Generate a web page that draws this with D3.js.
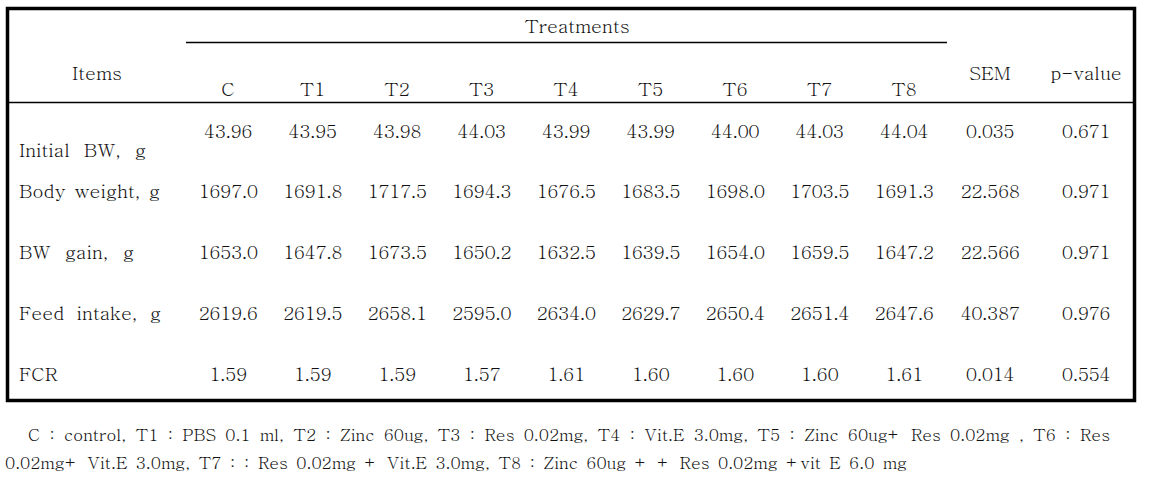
<!DOCTYPE html>
<html>
<head>
<meta charset="utf-8">
<script src="https://cdn.jsdelivr.net/npm/d3@7"></script>
<style>
  html, body { margin: 0; padding: 0; background: #fff; }
</style>
</head>
<body>
<svg id="chart" width="1153" height="486"></svg>
<script>
// ---- data ----
const treatments = ["C", "T1", "T2", "T3", "T4", "T5", "T6", "T7", "T8"];
const statCols = ["SEM", "p-value"];
const items = ["Initial BW, g", "Body weight, g", "BW gain, g", "Feed intake, g", "FCR"];
const initialBW = ["43.96", "43.95", "43.98", "44.03", "43.99", "43.99", "44.00", "44.03", "44.04"];
const bodyWeight = ["1697.0", "1691.8", "1717.5", "1694.3", "1676.5", "1683.5", "1698.0", "1703.5", "1691.3"];
const bwGain = ["1653.0", "1647.8", "1673.5", "1650.2", "1632.5", "1639.5", "1654.0", "1659.5", "1647.2"];
const feedIntake = ["2619.6", "2619.5", "2658.1", "2595.0", "2634.0", "2629.7", "2650.4", "2651.4", "2647.6"];
const fcr = ["1.59", "1.59", "1.59", "1.57", "1.61", "1.60", "1.60", "1.60", "1.61"];
const sem = ["0.035", "22.568", "22.566", "40.387", "0.014"];
const pValue = ["0.671", "0.971", "0.971", "0.976", "0.554"];
const footnoteLines = [
  "C : control, T1 : PBS 0.1 ml, T2 : Zinc 60ug, T3 : Res 0.02mg, T4 : Vit.E 3.0mg, T5 : Zinc 60ug+ Res 0.02mg , T6 : Res",
  "0.02mg+ Vit.E 3.0mg, T7 : : Res 0.02mg + Vit.E 3.0mg, T8 : Zinc 60ug + + Res 0.02mg +vit E 6.0 mg"
];

const treatmentValues = [initialBW, bodyWeight, bwGain, feedIntake, fcr];

// ---- scales ----
const svg = d3.select("#chart").attr("font-family", "Batang").attr("fill", "#111");
const xT = d3.scalePoint().domain(treatments).range([228, 904]);
const xS = d3.scalePoint().domain(statCols).range([990, 1086]);
const yBase = d3.scaleLinear().domain([1, items.length - 1]).range([198, 381]);
const yFirst = 138;

const fs = 19;

function fitWords(sel, target) {
  const node = sel.node();
  const natural = node.getComputedTextLength();
  const spaces = (node.textContent.match(/ /g) || []).length;
  if (spaces > 0 && target > natural) sel.attr("word-spacing", (target - natural) / spaces);
}
const rowY = i => i === 0 ? yFirst : yBase(i);

// frame
svg.append("rect").attr("x", 7.5).attr("y", 8.5).attr("width", 1127).attr("height", 392)
  .attr("fill", "none").attr("stroke", "#000").attr("stroke-width", 3.5);

// Treatments span line
svg.append("line").attr("x1", 186).attr("x2", 947).attr("y1", 42.5).attr("y2", 42.5)
  .attr("stroke", "#000").attr("stroke-width", 1.3);
// header bottom
svg.append("line").attr("x1", 7).attr("x2", 1135).attr("y1", 102.5).attr("y2", 102.5)
  .attr("stroke", "#000").attr("stroke-width", 1.3);

// header texts
svg.append("text").attr("x", 577).attr("y", 33)
  .attr("text-anchor", "middle").attr("font-size", fs).text("Treatments");
svg.append("text").attr("x", 97).attr("y", 80).attr("text-anchor", "middle").attr("font-size", fs).text("Items");
svg.selectAll("text.th").data(treatments).enter().append("text").attr("class", "th")
  .attr("x", d => xT(d)).attr("y", 96).attr("text-anchor", "middle").attr("font-size", fs).text(d => d);
svg.selectAll("text.sh").data(statCols).enter().append("text").attr("class", "sh")
  .attr("x", d => xS(d)).attr("y", 80).attr("text-anchor", "middle").attr("font-size", fs).text(d => d);

// row labels
const labelWidths = [127, 141, 115, 142, 36];
svg.selectAll("text.rl").data(items).enter().append("text").attr("class", "rl")
  .attr("x", 19).attr("y", (d, i) => i === 0 ? 157 : rowY(i))
  .attr("font-size", fs).text(d => d)
  .each(function(d, i) { fitWords(d3.select(this), labelWidths[i]); });

// treatment values
treatmentValues.forEach((vals, i) => {
  svg.selectAll("text.v" + i).data(vals).enter().append("text").attr("class", "v" + i)
    .attr("x", (d, j) => xT(treatments[j])).attr("y", rowY(i))
    .attr("text-anchor", "middle").attr("font-size", fs).attr("letter-spacing", -0.5).text(d => d);
});
// stat values
[sem, pValue].forEach((vals, k) => {
  svg.selectAll("text.s" + k).data(vals).enter().append("text").attr("class", "s" + k)
    .attr("x", xS(statCols[k])).attr("y", (d, i) => rowY(i))
    .attr("text-anchor", "middle").attr("font-size", fs).attr("letter-spacing", -0.5).text(d => d);
});

// footnote
const f1 = svg.append("text").attr("x", 28).attr("y", 441).attr("font-size", 17).text(footnoteLines[0]);
fitWords(f1, 1082);
const f2 = svg.append("text").attr("x", 5).attr("y", 469).attr("font-size", 17).text(footnoteLines[1]);
fitWords(f2, 902);
</script>
</body>
</html>
